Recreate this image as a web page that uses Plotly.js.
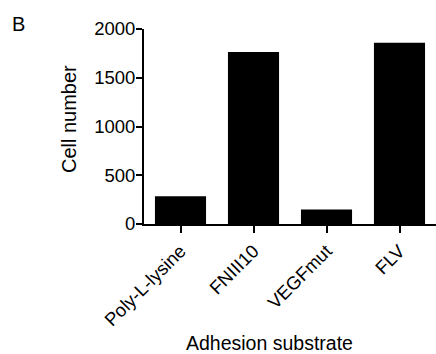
<!DOCTYPE html>
<html>
<head>
<meta charset="utf-8">
<script src="https://cdn.plot.ly/plotly-3.0.1.min.js"></script>
<style>html,body{margin:0;padding:0;background:#fff;}#chart{width:436px;height:354px;}</style>
</head>
<body>
<div id="chart"></div>
<script>
const categories = ["Poly-L-lysine", "FNIII10", "VEGFmut", "FLV"];
const cellNumber = [285, 1765, 150, 1860];
const yTickValues = [0, 500, 1000, 1500, 2000];
const yTickLabels = ["0", "500", "1000", "1500", "2000"];

const FONT = "Liberation Sans, Arial, sans-serif";

const data = [{
  type: "bar",
  x: categories,
  y: cellNumber,
  marker: {color: "#000000", line: {width: 0}},
  hoverinfo: "skip"
}];

const layout = {
  width: 436,
  height: 354,
  margin: {l: 144, r: 0, t: 29, b: 130, pad: 0},
  paper_bgcolor: "#ffffff",
  plot_bgcolor: "#ffffff",
  showlegend: false,
  bargap: 0.3,
  font: {family: FONT, color: "#000000", size: 18},
  xaxis: {
    type: "category",
    range: [-0.5, 3.5],
    showline: true,
    linewidth: 2,
    linecolor: "#000000",
    ticks: "outside",
    ticklen: 7,
    tickwidth: 2,
    tickcolor: "#000000",
    tickangle: -45,
    tickfont: {family: FONT, size: 18.5, color: "#000000"},
    showgrid: false,
    zeroline: false,
    fixedrange: true
  },
  yaxis: {
    range: [0, 2000],
    tickvals: yTickValues,
    ticktext: yTickLabels,
    showline: true,
    linewidth: 2,
    linecolor: "#000000",
    ticks: "outside",
    ticklen: 6,
    tickwidth: 2,
    tickcolor: "#000000",
    ticklabelstandoff: -3,
    tickfont: {family: FONT, size: 18.5, color: "#000000"},
    showgrid: false,
    zeroline: false,
    fixedrange: true
  },
  annotations: [
    {
      text: "Adhesion substrate",
      xref: "paper", yref: "paper",
      x: 0.4315, y: -0.608,
      xanchor: "center", yanchor: "middle",
      showarrow: false,
      font: {family: FONT, size: 19.5, color: "#000000"}
    },
    {
      text: "Cell number",
      xref: "paper", yref: "paper",
      x: -0.257, y: 0.538,
      xanchor: "center", yanchor: "middle",
      textangle: -90,
      showarrow: false,
      font: {family: FONT, size: 20, color: "#000000"}
    },
    {
      text: "B",
      xref: "paper", yref: "paper",
      x: -0.4315, y: 1.026,
      xanchor: "center", yanchor: "middle",
      showarrow: false,
      font: {family: FONT, size: 20, color: "#000000"}
    }
  ]
};

Plotly.newPlot("chart", data, layout, {displayModeBar: false, staticPlot: true});
</script>
</body>
</html>
